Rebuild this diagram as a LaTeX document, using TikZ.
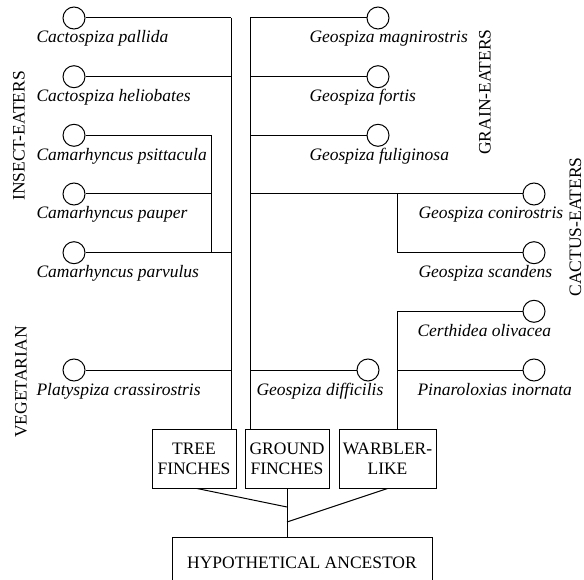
\documentclass[tikz,border=0pt]{standalone}
\usepackage{fontspec}
\setmainfont{Liberation Serif}
\newcommand{\diafont}{\fontsize{17.5}{20}\selectfont}
\tikzset{
  bird/.style={circle, draw, minimum size=22pt, inner sep=0pt},
  sp/.style={font=\diafont\itshape, anchor=base west, inner sep=0pt},
  grp/.style={draw, minimum height=59pt, inner sep=0pt, align=center, font=\diafont},
  side/.style={rotate=90, inner sep=0pt, font=\diafont},
}
\begin{document}
\begin{tikzpicture}[x=1pt,y=-1pt,line width=1pt]
\clip (0,0) rectangle (584,580);
% left circles
\node[bird] (c1) at (74,18) {};
\node[bird] (c2) at (74,76.7) {};
\node[bird] (c3) at (74,135.3) {};
\node[bird] (c4) at (74,194) {};
\node[bird] (c5) at (74,252.7) {};
\node[bird] (c6) at (74,370) {};
\node[sp] (l1) at (36,43) {Cactospiza pallida};
\node[sp] (l2) at (36,101.7) {Cactospiza heliobates};
\node[sp] (l3) at (36,160.3) {Camarhyncus psittacula};
\node[sp] (l4) at (36,219) {Camarhyncus pauper};
\node[sp] (l5) at (36,277.7) {Camarhyncus parvulus};
\node[sp] (l6) at (36,395) {Platyspiza crassirostris};
% right circles
\node[bird] (g1) at (378,18) {};
\node[bird] (g2) at (378,76.7) {};
\node[bird] (g3) at (378,135.3) {};
\node[bird] (g4) at (534,194) {};
\node[bird] (g5) at (534,252.7) {};
\node[bird] (dif) at (368,370) {};
\node[bird] (cert) at (534,311.3) {};
\node[bird] (pin) at (534,370) {};
\node[sp] (m1) at (309,43) {Geospiza magnirostris};
\node[sp] (m2) at (309,101.7) {Geospiza fortis};
\node[sp] (m3) at (309,160.3) {Geospiza fuliginosa};
\node[sp] (m4) at (418,219) {Geospiza conirostris};
\node[sp] (m5) at (418,277.7) {Geospiza scandens};
\node[sp] (m6) at (256,395) {Geospiza difficilis};
\node[sp] (m7) at (417,336.3) {Certhidea olivacea};
\node[sp] (m8) at (417,395) {Pinaroloxias inornata};
% side labels
\node[side] (s1) at (19,136) {INSECT-EATERS};
\node[side] (s2) at (21,382) {VEGETARIAN};
\node[side] (s3) at (485,92) {GRAIN-EATERS};
\node[side] (s4) at (575.5,227) {CACTUS-EATERS};
% boxes
\node[grp, minimum width=84pt] (tree) at (194,458.5) {TREE\\FINCHES};
\node[grp, minimum width=84pt] (ground) at (287,458.5) {GROUND\\FINCHES};
\node[grp, minimum width=97pt] (warbler) at (387.5,458.5) {WARBLER-\\LIKE};
\node[grp, minimum width=260pt, minimum height=50pt, anchor=north] (anc) at (302,537) {HYPOTHETICAL ANCESTOR};
% tree finches
\coordinate (tv) at (231,18);
\draw (tv) -- (tv |- tree.north);
\draw (c1.east) -- (c1 -| tv);
\draw (c2.east) -- (c2 -| tv);
\coordinate (cv) at (211,135.3);
\draw (c3.east) -- (cv) -- (cv |- c5);
\draw (c4.east) -- (c4 -| cv);
\draw (c5.east) -- (c5 -| tv);
\draw (c6.east) -- (c6 -| tv);
% ground finches
\coordinate (gv) at (250,18);
\draw (gv) -- (gv |- ground.north);
\draw (g1.west) -- (g1 -| gv);
\draw (g2.west) -- (g2 -| gv);
\draw (g3.west) -- (g3 -| gv);
\draw (g4.west) -- (g4 -| gv);
\coordinate (kv) at (397,194);
\draw (kv) -- (kv |- g5) -- (g5.west);
\draw (dif.west) -- (dif -| gv);
% warbler-like
\coordinate (wv) at (397,311.3);
\draw (cert.west) -- (wv) -- (wv |- warbler.north);
\draw (pin.west) -- (pin -| wv);
% to ancestor
\coordinate (j1) at (287,507);
\coordinate (j2) at (287,522);
\draw ([xshift=3pt]tree.south) -- (j1);
\draw (warbler.south) -- (j2);
\draw (ground.south) -- (ground.south |- anc.north);
\end{tikzpicture}
\end{document}
